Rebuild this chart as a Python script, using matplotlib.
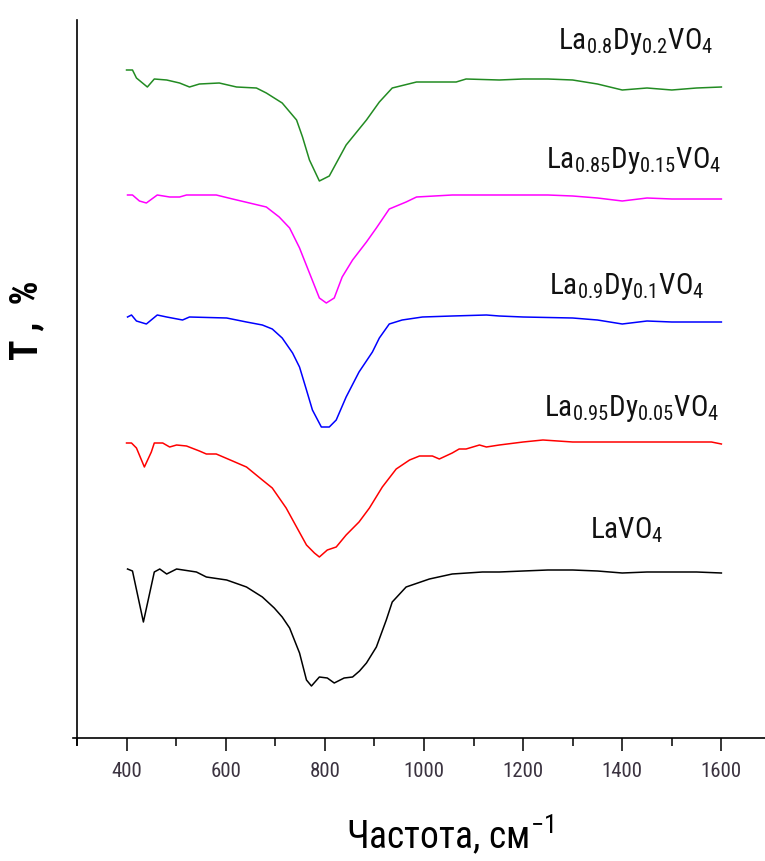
import matplotlib
matplotlib.use("Agg")
import matplotlib.pyplot as plt
from matplotlib import font_manager
from matplotlib.ticker import MultipleLocator

# pick a narrow sans if there is one, the original looks like Arial Narrow
font_name = "Liberation Sans"
for f in ["Liberation Sans Narrow", "Roboto Condensed", "Liberation Sans"]:
    try:
        font_manager.findfont(f, fallback_to_default=False)
        font_name = f
        break
    except Exception:
        pass

plt.rcParams["font.family"] = [font_name, "DejaVu Sans"]
plt.rcParams["mathtext.fontset"] = "custom"
plt.rcParams["mathtext.rm"] = font_name
plt.rcParams["mathtext.default"] = "regular"

# wavenumber (cm-1) and transmittance (arb. units)
w_lavo4 = [402, 412, 434, 456, 467, 481, 501, 541, 561, 602, 642, 674, 698, 714, 729, 749, 763,
           773, 789, 805, 819, 839, 856, 870, 884, 904, 924, 936, 964, 1011, 1057, 1118, 1152,
           1200, 1250, 1300, 1350, 1400, 1450, 1500, 1550, 1600]
t_lavo4 = [169, 167, 116, 166, 169, 164, 169, 166, 161, 158, 151, 141, 130, 121, 110, 85, 58,
           52, 61, 60, 55, 60, 61, 67, 75, 91, 118, 136, 151, 159, 164, 166, 166,
           167, 168, 168, 167, 165, 166, 166, 166, 165]

w_la95 = [400, 410, 420, 436, 450, 456, 473, 487, 501, 521, 547, 561, 581, 614, 642, 674, 694,
          722, 743, 763, 779, 789, 805, 823, 843, 869, 890, 916, 944, 971, 991, 1017, 1031,
          1057, 1071, 1085, 1112, 1126, 1152, 1200, 1240, 1300, 1400, 1500, 1580, 1600]
t_la95 = [295, 295, 290, 271, 286, 295, 295, 291, 293, 292, 287, 284, 284, 277, 271, 258, 250,
          230, 211, 193, 185, 181, 188, 191, 203, 216, 230, 251, 269, 278, 282, 282, 279,
          285, 289, 289, 293, 291, 293, 296, 298, 296, 296, 296, 296, 294]

w_la90 = [402, 410, 420, 440, 462, 481, 513, 527, 602, 642, 674, 694, 714, 735, 749, 763, 775,
          793, 809, 823, 843, 869, 896, 910, 930, 956, 997, 1057, 1126, 1152, 1200, 1300, 1350,
          1400, 1450, 1500, 1600]
t_la90 = [421, 423, 417, 414, 423, 421, 418, 421, 420, 416, 413, 409, 400, 385, 371, 348, 328,
          311, 311, 318, 341, 366, 386, 400, 414, 418, 421, 422, 423, 422, 421, 420, 418,
          414, 417, 416, 416]

w_la85 = [402, 412, 426, 440, 462, 487, 507, 521, 581, 614, 648, 682, 708, 729, 749, 769, 789,
          803, 819, 835, 856, 884, 904, 930, 964, 985, 1057, 1152, 1250, 1300, 1350, 1400, 1450,
          1500, 1600]
t_la85 = [543, 543, 537, 535, 543, 541, 541, 543, 543, 539, 535, 531, 521, 510, 490, 465, 440,
          435, 440, 461, 478, 496, 510, 529, 536, 541, 543, 543, 543, 542, 540, 537, 540,
          539, 539]

w_la80 = [400, 412, 420, 442, 456, 481, 507, 527, 547, 587, 622, 662, 682, 714, 743, 755, 769,
          789, 809, 843, 884, 910, 936, 985, 1065, 1085, 1152, 1200, 1250, 1300, 1350, 1400,
          1450, 1500, 1550, 1600]
t_la80 = [668, 668, 660, 651, 659, 658, 655, 651, 654, 655, 651, 650, 645, 635, 618, 601, 578,
          557, 562, 593, 618, 636, 650, 656, 656, 659, 658, 659, 659, 658, 654, 648, 650,
          648, 650, 651]

curves = [
    (w_lavo4, t_lavo4, "black"),
    (w_la95, t_la95, "#ff0000"),
    (w_la90, t_la90, "#0000ff"),
    (w_la85, t_la85, "#ff00ff"),
    (w_la80, t_la80, "#228b22"),
]

labels = [r"LaVO$_4$", r"La$_{0.95}$Dy$_{0.05}$VO$_4$", r"La$_{0.9}$Dy$_{0.1}$VO$_4$",
          r"La$_{0.85}$Dy$_{0.15}$VO$_4$", r"La$_{0.8}$Dy$_{0.2}$VO$_4$"]
label_x = [1410, 1420, 1408, 1424, 1428]
label_y = [208, 330, 451, 578, 697]

fig = plt.figure(figsize=(7.65, 8.61), dpi=100)
ax = fig.add_axes([73 / 765, 116 / 861, 692 / 765, 725 / 861])

for (w, t, c) in curves:
    ax.plot(w, t, color=c, lw=1.1)

for lab, lx, ly in zip(labels, label_x, label_y):
    ax.text(lx, ly, lab, fontsize=21, ha="center", va="center", color="#111111")

ax.set_xlim(292, 1688)
ax.set_ylim(-7, 718)
ax.spines["top"].set_visible(False)
ax.spines["right"].set_visible(False)
ax.spines["left"].set_position(("data", 300))
ax.spines["bottom"].set_position(("data", 0))
ax.spines["left"].set_linewidth(1.2)
ax.spines["bottom"].set_linewidth(1.2)

ax.set_yticks([])
ax.xaxis.set_major_locator(MultipleLocator(200))
ax.xaxis.set_minor_locator(MultipleLocator(100))
ax.tick_params(axis="x", which="major", direction="out", length=9, width=1.1,
               labelsize=15, labelcolor="#3b3340", pad=8)
ax.tick_params(axis="x", which="minor", direction="out", length=6, width=1.1)

ax.set_xlabel("Частота, см$^{-1}$", fontsize=27)
ax.xaxis.set_label_coords(0.545, -0.093)
ax.set_ylabel("T ,  %", fontsize=27, fontweight="bold")
ax.yaxis.set_label_coords(-0.040, 0.586)

fig.savefig("out.png", dpi=100)
